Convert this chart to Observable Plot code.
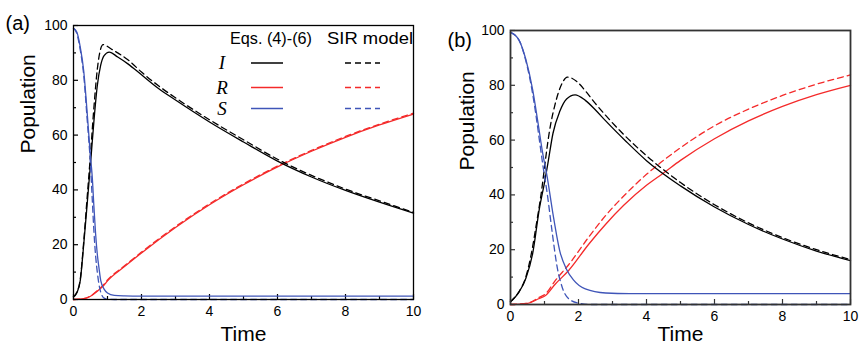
<!DOCTYPE html>
<html><head><meta charset="utf-8">
<script src="https://cdn.jsdelivr.net/npm/d3@7"></script>
<script src="https://cdn.jsdelivr.net/npm/@observablehq/plot@0.6"></script>
<style>
body{margin:0;background:#fff;}
#wrap{position:relative;width:865px;height:355px;overflow:hidden;background:#fff;}
.panel{position:absolute;top:0;}
#legend{position:absolute;left:0;top:0;}
</style></head><body><div id="wrap"></div>
<script>
// ---------- Panel (a) ----------
const aI_t    = [0, 0.1, 0.2, 0.3, 0.4, 0.5, 0.6, 0.7, 0.8, 0.9, 1.05, 1.3, 1.6, 2, 2.5, 3, 4, 5, 6, 7, 8, 9, 10];
const aI      = [1, 2.5, 7, 20, 34.5, 49.5, 65, 78, 85.5, 89, 90.3, 88.5, 86, 82, 77, 72.8, 64.8, 57.5, 50.5, 44.7, 39.8, 35.5, 31.5];
const aIsir_t = [0, 0.1, 0.2, 0.3, 0.4, 0.5, 0.6, 0.7, 0.8, 0.87, 0.95, 1.1, 1.3, 1.6, 2, 2.5, 3, 4, 5, 6, 7, 8, 9, 10];
const aIsir   = [1, 2.7, 7.5, 21, 37, 53, 70, 84, 91.5, 93, 92.7, 91.5, 90, 87.5, 83, 78, 73.6, 65.6, 58.3, 51.2, 45.3, 40.3, 36, 31.8];
const aS_t    = [0, 0.1, 0.2, 0.3, 0.4, 0.5, 0.55, 0.6, 0.65, 0.7, 0.75, 0.8, 0.9, 1.0, 1.2, 1.5, 2, 10];
const aS      = [99, 97.5, 92, 83.5, 68.5, 52, 45, 34, 24, 16.5, 11.5, 7, 3.8, 2.4, 1.5, 1.3, 1.2, 1.2];
const aSsir_t = [0, 0.1, 0.2, 0.3, 0.4, 0.5, 0.55, 0.6, 0.65, 0.7, 0.75, 0.8, 0.85, 0.9, 1.0, 1.2, 10];
const aSsir   = [99, 97, 91, 82, 66, 49, 37, 25, 16, 10, 5.5, 2.7, 1.2, 0.5, 0.1, 0, 0];
const aR_t    = [0, 0.3, 0.5, 0.7, 0.9, 1.0, 1.5, 2, 3, 4, 5, 6, 7, 8, 9, 10];
const aR      = [0, 0.3, 1.2, 3, 5.3, 6.8, 12, 17, 26.3, 34.6, 41.9, 48.4, 54.1, 59.2, 63.7, 67.7];
const aRsir   = [0, 0.3, 1.3, 3.2, 5.6, 7.1, 12.3, 17.3, 26.6, 34.9, 42.2, 48.7, 54.4, 59.5, 64.0, 68.0];

// ---------- Panel (b) ----------
const bI_t    = [0, 0.25, 0.45, 0.65, 0.85, 1.0, 1.1, 1.25, 1.45, 1.65, 1.9, 2.2, 2.5, 2.8, 3.4, 4, 5, 6, 7, 8, 9, 10];
const bI      = [1, 4.5, 9.5, 18.5, 35, 44.5, 51.5, 62.5, 70.5, 75, 76.5, 74.5, 71, 67, 59.5, 52.5, 43.3, 35.6, 29.2, 23.9, 19.5, 16];
const bIsir_t = [0, 0.25, 0.45, 0.65, 0.75, 0.93, 1.0, 1.13, 1.2, 1.3, 1.4, 1.55, 1.67, 1.8, 2.0, 2.2, 2.5, 2.8, 3.3, 4, 5, 6, 7, 8, 9, 10];
const bIsir   = [1, 4.7, 10, 21, 28.5, 43, 50, 62, 67, 72.5, 77, 81.5, 83, 82.6, 80.8, 78, 73.3, 69, 62.4, 54.3, 44.5, 36.4, 29.8, 24.4, 20, 16.4];
const bS_t    = [0, 0.25, 0.45, 0.65, 0.8, 0.95, 1.08, 1.25, 1.45, 1.65, 1.85, 2.2, 2.8, 3.5, 10];
const bS      = [99.3, 96.5, 89.5, 78.5, 67, 55, 46.5, 33, 19.5, 12.8, 9, 5.7, 4.2, 4, 4];
const bSsir_t = [0, 0.25, 0.45, 0.65, 0.75, 0.85, 0.95, 1.08, 1.23, 1.37, 1.52, 1.72, 2.0, 2.4, 10];
const bSsir   = [99.3, 96.5, 89, 77, 69, 60, 51, 40.5, 26, 13.8, 6.3, 2, 0.5, 0, 0];
const bR_t    = [0, 0.5, 0.83, 1.03, 1.32, 1.71, 2.3, 2.8, 3.33, 4, 4.5, 5, 6, 7, 8, 9, 10];
const bR      = [0, 0.4, 2.1, 3.3, 7.5, 12.4, 22, 29.3, 36.2, 43.5, 48, 52.6, 60.5, 67, 72.3, 76.6, 80];
const bRsir_t = [0, 0.5, 0.83, 1.03, 1.32, 1.71, 2.3, 2.8, 3.33, 4, 5, 6, 7, 8, 9, 10];
const bRsir   = [0, 0.5, 2.5, 3.9, 8.8, 14.5, 24.6, 32.5, 39.6, 47.5, 57.2, 65.2, 71.3, 76.3, 80.4, 83.8];

// ---------- Ticks & text ----------
const majorX = [0, 2, 4, 6, 8, 10];
const minorX = [1, 3, 5, 7, 9];
const majorY = [0, 20, 40, 60, 80, 100];
const minorY = [10, 30, 50, 70, 90];
const xTitle = "Time";
const yTitle = "Population";
const panelLabels = ["(a)", "(b)"];
const legendHeads = ["Eqs. (4)-(6)", "SIR model"];
const legendVars = ["I", "R", "S"];

const BLACK = "#000", RED = "#f42a2a", BLUE = "#3f55b8";
const DASH = "6,4";

function pts(t, v) { return t.map((d, i) => ({t: d, v: v[i]})); }

function makePanel(p) {
  const plotW = 430 - p.ml - p.mr, plotH = 355 - p.mt - p.mb;
  const lineMark = (t, v, color, dashed) => Plot.line(pts(t, v), {
    x: "t", y: "v", stroke: color, strokeWidth: 1.3, curve: "monotone-x",
    strokeDasharray: dashed ? DASH : null
  });
  return Plot.plot({
    width: 430, height: 355,
    marginLeft: p.ml, marginRight: p.mr, marginTop: p.mt, marginBottom: p.mb,
    style: {fontFamily: "'Liberation Sans', Arial, sans-serif", fontSize: "14px", color: "#000", background: "transparent", overflow: "visible"},
    x: {domain: [0, 10]},
    y: {domain: [0, 100]},
    marks: [
      Plot.axisX({ticks: majorX, tickSize: 0, tickPadding: 7, label: null, fontSize: 14}),
      Plot.axisY({ticks: majorY, tickSize: 0, tickPadding: 6, label: null, fontSize: 14}),
      Plot.tickX(majorX, {x: d => d, insetTop: plotH - 5, stroke: p.frameColor, strokeWidth: 1.2}),
      Plot.tickX(minorX, {x: d => d, insetTop: plotH - 3, stroke: p.frameColor, strokeWidth: 1.2}),
      Plot.tickY(majorY, {y: d => d, insetRight: plotW - 5, stroke: p.frameColor, strokeWidth: 1.2}),
      Plot.tickY(minorY, {y: d => d, insetRight: plotW - 3, stroke: p.frameColor, strokeWidth: 1.2}),
      lineMark(p.Rt, p.R, RED, false),
      lineMark(p.Rsirt, p.Rsir, RED, true),
      lineMark(p.It, p.I, BLACK, false),
      lineMark(p.Isirt, p.Isir, BLACK, true),
      lineMark(p.St, p.S, BLUE, false),
      lineMark(p.Ssirt, p.Ssir, BLUE, true),
      Plot.frame({stroke: p.frameColor, strokeWidth: p.frameWidth}),
      Plot.text([xTitle], {frameAnchor: "bottom", dy: p.xTitleDy, fontSize: 21, fill: "#000"}),
      Plot.text([yTitle], {frameAnchor: "left", dx: p.yTitleDx, dy: p.yTitleDy, rotate: -90, fontSize: 21, fill: "#000"}),
      Plot.text([p.label], {frameAnchor: "top-left", dx: p.labDx, dy: p.labDy, textAnchor: "start", fontSize: 20, fill: "#000"})
    ]
  });
}

const wrap = document.getElementById("wrap");
const panels = [
  {left: 0, ml: 73, mr: 17, mt: 25, mb: 56, It: aI_t, I: aI, Isirt: aIsir_t, Isir: aIsir, St: aS_t, S: aS, Ssirt: aSsir_t, Ssir: aSsir,
   Rt: aR_t, R: aR, Rsirt: aR_t, Rsir: aRsir, label: panelLabels[0], xTitleDy: 41, yTitleDx: -45, yTitleDy: -9, labDx: -68, labDy: -10,
   frameColor: "#000", frameWidth: 1.3},
  {left: 435, ml: 75, mr: 15, mt: 30, mb: 51, It: bI_t, I: bI, Isirt: bIsir_t, Isir: bIsir, St: bS_t, S: bS, Ssirt: bSsir_t, Ssir: bSsir,
   Rt: bR_t, R: bR, Rsirt: bRsir_t, Rsir: bRsir, label: panelLabels[1], xTitleDy: 36, yTitleDx: -43, yTitleDy: 3, labDx: -63, labDy: 2,
   frameColor: "#333", frameWidth: 1.8}
];
for (const p of panels) {
  const div = document.createElement("div");
  div.className = "panel";
  div.style.left = p.left + "px";
  div.appendChild(makePanel(p));
  wrap.appendChild(div);
}

// Legend for panel (a)
const lg = d3.select(wrap).append("svg").attr("id", "legend").attr("width", 865).attr("height", 355);
const heads = [{x: 230, w: 82, text: legendHeads[0]}, {x: 327, w: 86, text: legendHeads[1]}];
lg.selectAll("text.h").data(heads).join("text").attr("class", "h")
  .attr("x", d => d.x).attr("y", 43.5).attr("textLength", d => d.w).attr("lengthAdjust", "spacingAndGlyphs")
  .style("font-family", "'Liberation Sans', Arial, sans-serif").style("font-size", "17px").text(d => d.text);
const rows = legendVars.map((v, i) => ({v, y: [63, 87.5, 108.5][i], c: [BLACK, RED, BLUE][i]}));
lg.selectAll("text.v").data(rows).join("text").attr("class", "v")
  .attr("x", 222).attr("y", d => d.y + 6).attr("text-anchor", "middle")
  .style("font-family", "'Liberation Serif', 'Times New Roman', serif").style("font-style", "italic").style("font-size", "19px")
  .text(d => d.v);
lg.selectAll("line.s").data(rows).join("line").attr("class", "s")
  .attr("x1", 251).attr("x2", 283).attr("y1", d => d.y).attr("y2", d => d.y)
  .attr("stroke", d => d.c).attr("stroke-width", 1.5);
lg.selectAll("line.d").data(rows).join("line").attr("class", "d")
  .attr("x1", 345).attr("x2", 380).attr("y1", d => d.y).attr("y2", d => d.y)
  .attr("stroke", d => d.c).attr("stroke-width", 1.5).attr("stroke-dasharray", DASH);
</script>
</body></html>
